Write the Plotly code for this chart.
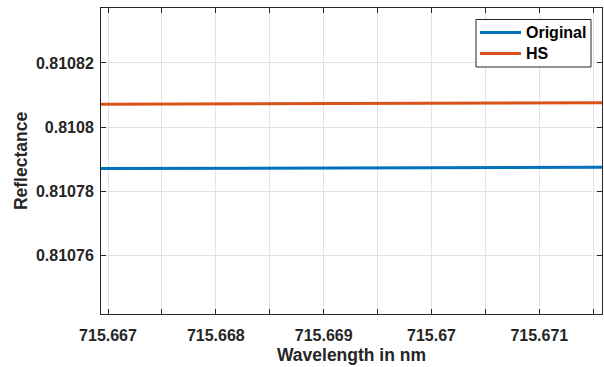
import plotly.graph_objects as go

# Data
wavelength = [715.66690, 715.66920, 715.67160]
original = [0.81078710, 0.81078725, 0.81078750]
hs = [0.81080710, 0.81080730, 0.81080760]
series_names = ["Original", "HS"]
series_colors = ["#0072BD", "#D95319"]

x_tickvals = [715.667, 715.6675, 715.668, 715.6685, 715.669, 715.6695,
              715.670, 715.6705, 715.671, 715.6715]
x_ticktext = ["715.667", "", "715.668", "", "715.669", "", "715.67", "", "715.671", ""]
y_tickvals = [0.81076, 0.81078, 0.81080, 0.81082]
y_ticktext = ["0.81076", "0.81078", "0.8108", "0.81082"]

TXT = "#262626"
FONT = "Liberation Sans, Arial, sans-serif"
W, H = 604, 367
ML, MR, MT, MB = 101, 2, 8, 53
PW, PH = W - ML - MR, H - MT - MB


def px(x):
    return (x - ML) / PW


def py(y):
    return (H - MB - y) / PH


fig = go.Figure()
for name, vals, col in zip(series_names, [original, hs], series_colors):
    fig.add_trace(go.Scatter(x=wavelength, y=vals, mode="lines", name=name,
                             line=dict(color=col, width=3), showlegend=False))

axis_common = dict(
    showline=True, linecolor=TXT, linewidth=1, mirror="allticks",
    ticks="inside", ticklen=5, tickcolor=TXT, tickwidth=1,
    showgrid=True, gridcolor="#e3e3e3", gridwidth=1, zeroline=False,
    tickfont=dict(family=FONT, size=16, color=TXT, weight="bold"),
)

# manual MATLAB-style legend
shapes = [dict(type="rect", xref="paper", yref="paper",
               x0=px(476), x1=px(591), y0=py(67), y1=py(19.5),
               line=dict(color=TXT, width=1), fillcolor="white", layer="above")]
annotations = []
for i, (name, col) in enumerate(zip(series_names, series_colors)):
    yy = 32.5 + 21 * i
    shapes.append(dict(type="line", xref="paper", yref="paper",
                       x0=px(480), x1=px(521), y0=py(yy), y1=py(yy),
                       line=dict(color=col, width=3), layer="above"))
    annotations.append(dict(xref="paper", yref="paper", x=px(524), y=py(yy),
                            xanchor="left", yanchor="middle", showarrow=False,
                            text="<b>%s</b>" % name,
                            font=dict(family=FONT, size=16, color="black")))

fig.update_layout(
    width=W, height=H,
    margin=dict(l=ML, r=MR, t=MT, b=MB),
    paper_bgcolor="white", plot_bgcolor="white",
    font=dict(family=FONT, color=TXT),
    xaxis=dict(range=[715.6669351, 715.671581], tickvals=x_tickvals, ticktext=x_ticktext,
               ticklabelstandoff=7,
               title=dict(text="<b>Wavelength in nm</b>", font=dict(size=17.5, family=FONT, color=TXT), standoff=5),
               **axis_common),
    yaxis=dict(range=[0.8107418, 0.8108371], tickvals=y_tickvals, ticktext=y_ticktext,
               ticklabelstandoff=3,
               title=dict(text="<b>Reflectance</b>", font=dict(size=17.5, family=FONT, color=TXT), standoff=3),
               **axis_common),
    shapes=shapes,
    annotations=annotations,
    showlegend=False,
)

fig.write_html("out.html")
